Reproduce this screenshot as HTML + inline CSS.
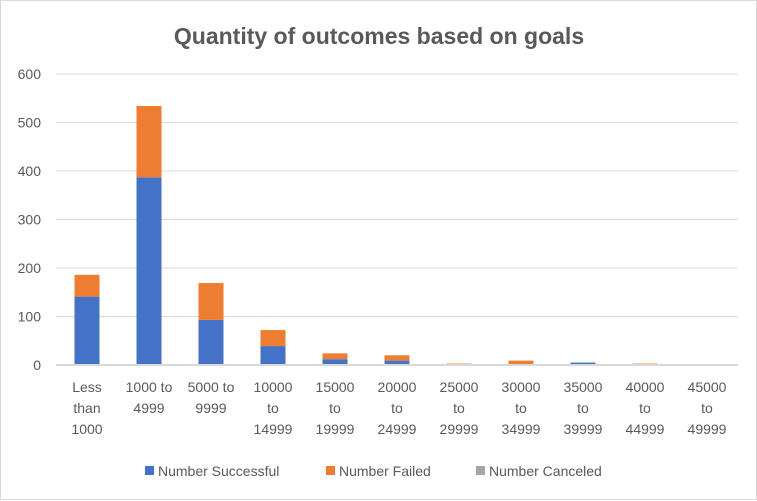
<!DOCTYPE html>
<html><head><meta charset="utf-8"><style>
body{margin:0;background:#fff;font-family:"Liberation Sans",sans-serif}
#c{position:relative;width:757px;height:500px;box-sizing:border-box;border:1px solid #d9d9d9}
</style></head><body>
<div id="c">
<svg id="s" width="757" height="500" style="position:absolute;left:0;top:0"></svg>
</div>
<script>
const categories=[["Less","than","1000"],["1000 to","4999"],["5000 to","9999"],["10000","to","14999"],["15000","to","19999"],["20000","to","24999"],["25000","to","29999"],["30000","to","34999"],["35000","to","39999"],["40000","to","44999"],["45000","to","49999"]];
const successful=[141,387,93,39,12,9,0,0,5,0,0];
const failed=[45,147,76,33,12,11,3,9,0,3,0];
const canceled=[0,0,0,0,0,0,0,0,0,0,0];
const yTicks=[0,100,200,300,400,500,600];
const NS="http://www.w3.org/2000/svg",svg=document.getElementById('s');
const L=55,R=737,Y0=364,Y1=73,MAX=600,band=(R-L)/categories.length,bw=25;
const y=v=>Y0-(v/MAX)*(Y0-Y1);
const xc=i=>L+band*(i+0.5);
function el(t,a,txt){const e=document.createElementNS(NS,t);for(const k in a)e.setAttribute(k,a[k]);if(txt!=null)e.textContent=txt;svg.appendChild(e);return e;}
const title=el('text',{x:378,y:43,'text-anchor':'middle','font-size':23,'font-weight':'bold',fill:'#595959'},'Quantity of outcomes based on goals');


yTicks.forEach(v=>{
 if(v>0){const g=el('line',{x1:L,x2:R,y1:y(v),y2:y(v),stroke:'#d9d9d9','stroke-width':1});
 
 }
 const t=el('text',{x:40,y:y(v)+5,'text-anchor':'end','font-size':14,fill:'#595959'},v);
 
 
});
categories.forEach((c,i)=>{
 let base=0;
 [[successful,'#4472c4','bar-successful'],[failed,'#ed7d31','bar-failed'],[canceled,'#a5a5a5','bar-canceled']].forEach(([arr,col,nm])=>{
  const v=arr[i];if(v>0){const r=el('rect',{x:xc(i)-bw/2,y:y(base+v),width:bw,height:y(base)-y(base+v),fill:col});
  
  }
  base+=v;
 });
 c.forEach((ln,j)=>{const t=el('text',{x:xc(i),y:391+j*21,'text-anchor':'middle','font-size':14,fill:'#595959'},ln);
 
 });
});
const ax=el('line',{x1:L,x2:R,y1:Y0,y2:Y0,stroke:'#d9d9d9','stroke-width':2});


[['Number Successful','#4472c4',144],['Number Failed','#ed7d31',325],['Number Canceled','#a5a5a5',475]].forEach(([n,c,x])=>{
 const r=el('rect',{x:x,y:465,width:9,height:9,fill:c});
 
 
 const t=el('text',{x:x+13,y:475,'font-size':14,fill:'#595959'},n);
 
 
});
</script>
</body></html>
